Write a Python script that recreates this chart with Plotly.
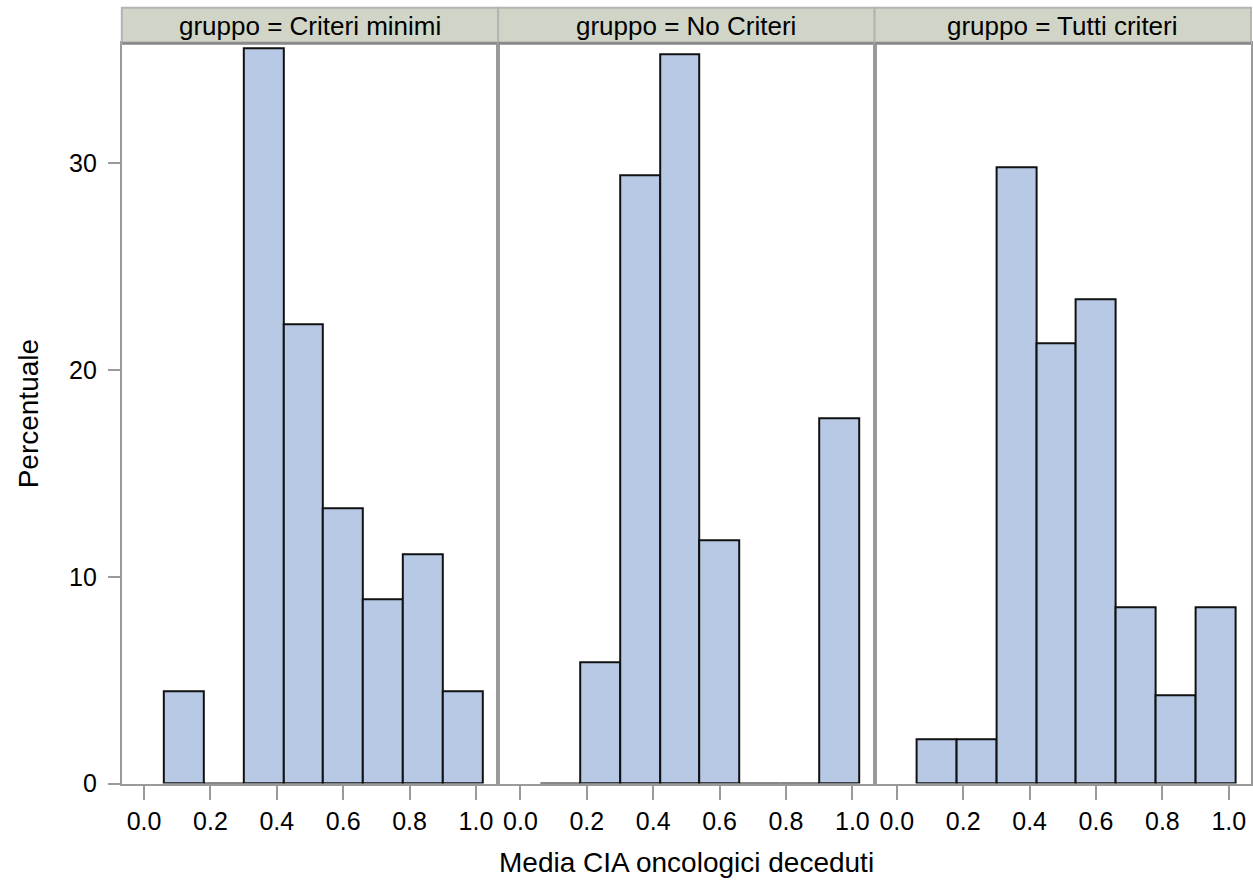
import plotly.graph_objects as go

# Data
groups = ["Criteri minimi", "No Criteri", "Tutti criteri"]
bin_centers = [0.12, 0.24, 0.36, 0.48, 0.60, 0.72, 0.84, 0.96]
bin_width = 0.12
pct_criteri_minimi = [4.44, 0.0, 35.56, 22.22, 13.33, 8.89, 11.11, 4.44]
pct_no_criteri = [0.0, 5.88, 29.41, 35.29, 11.76, 0.0, 0.0, 17.65]
pct_tutti_criteri = [2.13, 2.13, 29.79, 21.28, 23.40, 8.51, 4.26, 8.51]
series = [pct_criteri_minimi, pct_no_criteri, pct_tutti_criteri]
x_ticks = [0.0, 0.2, 0.4, 0.6, 0.8, 1.0]
y_ticks = [0, 10, 20, 30]

W, H = 1253, 893
left_px, right_px = 122, 1253
top_px, bottom_px, head_top_px = 44, 796, 8
panel_w = (right_px - left_px) / 3

def px_x(p):
    return p / W

def px_y(p):
    return 1 - p / H

fig = go.Figure()
FILL = "#B8C9E5"
AX = "#9a9a9a"
FONT = "Liberation Sans, Arial, sans-serif"
TICK_SIZE = 25

shapes = []
annotations = []
for i, (g, vals) in enumerate(zip(groups, series)):
    xa = "x" if i == 0 else f"x{i+1}"
    ya = "y" if i == 0 else f"y{i+1}"
    nz_x = [c for c, v in zip(bin_centers, vals) if v > 0]
    nz_v = [v for v in vals if v > 0]
    fig.add_trace(go.Bar(
        x=nz_x, y=nz_v, width=bin_width, xaxis=xa, yaxis=ya,
        marker=dict(color=FILL, line=dict(color="#111111", width=2)),
        showlegend=False, hoverinfo="x+y"))
    zx, zy = [], []
    for c, v in zip(bin_centers, vals):
        if v == 0:
            zx += [c - bin_width / 2, c + bin_width / 2, None]
            zy += [0, 0, None]
    if zx:
        fig.add_trace(go.Scatter(x=zx, y=zy, mode="lines", xaxis=xa, yaxis=ya,
                                 line=dict(color="#111111", width=2),
                                 showlegend=False, hoverinfo="skip", cliponaxis=False))

    x0 = left_px + i * panel_w
    x1 = x0 + panel_w
    dom = [px_x(x0), px_x(x1)]
    fig.layout[("xaxis" if i == 0 else f"xaxis{i+1}")] = dict(
        domain=dom, range=[-0.067, 1.067], anchor=ya,
        tickvals=x_ticks, tickformat=".1f", ticks="outside", ticklen=14,
        ticklabelstandoff=0,
        tickcolor=AX, tickwidth=2, showline=True, linecolor=AX, linewidth=2,
        mirror=True, showgrid=False, zeroline=False,
        tickfont=dict(family=FONT, size=TICK_SIZE, color="#000"))
    fig.layout[("yaxis" if i == 0 else f"yaxis{i+1}")] = dict(
        domain=[px_y(bottom_px), px_y(top_px)], range=[0, 35.8], anchor=xa,
        tickvals=y_ticks, ticks="outside" if i == 0 else "",
        showticklabels=(i == 0), ticklen=12, tickcolor=AX, tickwidth=2,
        ticklabelstandoff=6,
        showline=True, linecolor=AX, linewidth=2, mirror=True,
        showgrid=False, zeroline=False,
        tickfont=dict(family=FONT, size=TICK_SIZE, color="#000"))

    shapes.append(dict(type="rect", xref="paper", yref="paper",
                       x0=px_x(x0), x1=px_x(x1), y0=px_y(top_px), y1=px_y(head_top_px),
                       fillcolor="#D1D5C7", line=dict(color="#b4b4b4", width=2), layer="above"))
    shapes.append(dict(type="line", xref="paper", yref="paper",
                       x0=px_x(x0), x1=px_x(x1), y0=px_y(top_px), y1=px_y(top_px),
                       line=dict(color="#8a8a8a", width=3), layer="above"))
    annotations.append(dict(xref="paper", yref="paper", x=(dom[0] + dom[1]) / 2,
                            y=px_y(26), text=f"gruppo = {g}", showarrow=False,
                            font=dict(family=FONT, size=26, color="#000"),
                            xanchor="center", yanchor="middle"))

annotations.append(dict(xref="paper", yref="paper", x=(px_x(left_px) + px_x(right_px)) / 2,
                        y=px_y(876), text="Media CIA oncologici deceduti", showarrow=False,
                        font=dict(family=FONT, size=28, color="#000"),
                        xanchor="center", yanchor="middle"))
annotations.append(dict(xref="paper", yref="paper", x=px_x(28),
                        y=(px_y(top_px) + px_y(bottom_px)) / 2, text="Percentuale",
                        showarrow=False, textangle=-90,
                        font=dict(family=FONT, size=28, color="#000"),
                        xanchor="center", yanchor="middle"))

fig.update_layout(
    width=W, height=H, margin=dict(l=0, r=0, t=0, b=0),
    paper_bgcolor="white", plot_bgcolor="white", bargap=0,
    shapes=shapes, annotations=annotations,
    font=dict(family=FONT, size=20, color="#000"))

fig.write_html("out.html", config={"displayModeBar": False})
with open("out.html", "r", encoding="utf-8") as f:
    html = f.read()
css = "<style>html,body{margin:0;padding:0;}</style>"
html = html.replace("<head>", "<head>" + css, 1)
with open("out.html", "w", encoding="utf-8") as f:
    f.write(html)
